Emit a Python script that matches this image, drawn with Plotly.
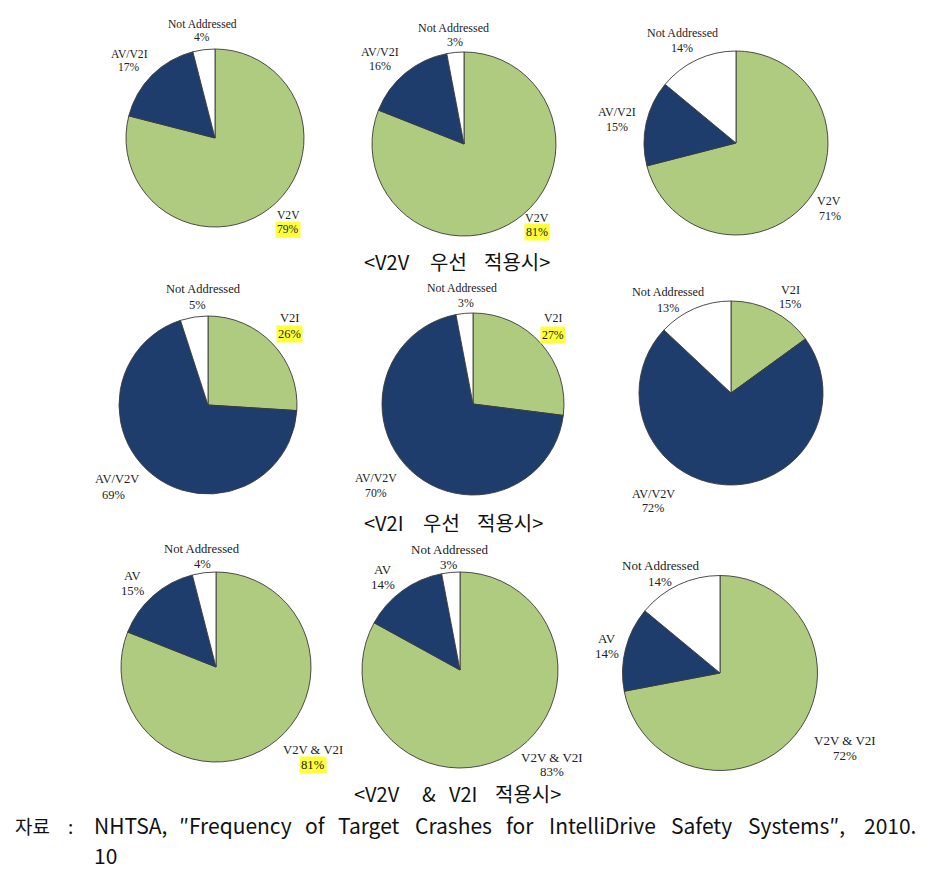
import plotly.graph_objects as go

# ---------------- data ----------------
row1_labels = ["V2V", "AV/V2I", "Not Addressed"]
row2_labels = ["V2I", "AV/V2V", "Not Addressed"]
row3_labels = ["V2V & V2I", "AV", "Not Addressed"]

v2v_first_a = [79, 17, 4]
v2v_first_b = [81, 16, 3]
v2v_first_c = [71, 15, 14]

v2i_first_a = [26, 69, 5]
v2i_first_b = [27, 70, 3]
v2i_first_c = [15, 72, 13]

both_a = [81, 15, 4]
both_b = [83, 14, 3]
both_c = [72, 14, 14]

captions = [
    ["<V2V", "우선", "적용시>"],
    ["<V2I", "우선", "적용시>"],
    ["<V2V", "&", "V2I", "적용시>"],
]
source_words = ["NHTSA,", "″Frequency", "of", "Target", "Crashes", "for",
                "IntelliDrive", "Safety", "Systems″,", "2010."]
source_prefix = ["자료", ":"]
source_tail = "10"

# ---------------- layout / style ----------------
W, H = 941, 874
GREEN = "#AFCB7F"
NAVY = "#1F3D6C"
WHITE = "#FFFFFF"
colors = [GREEN, NAVY, WHITE]

pies = [
    # labels, values, center(px), diameter, font size, highlight first, label positions per slice
    (row1_labels, v2v_first_a, (215, 138), 178, 11.6, True,
     [((288, 215), (288, 229)), ((129, 54), (129, 68)), ((202, 24), (202, 38))]),
    (row1_labels, v2v_first_b, (464, 144), 184, 12, True,
     [((537, 218), (537, 232)), ((380, 52), (380, 66)), ((453, 28), (455, 42))]),
    (row1_labels, v2v_first_c, (736, 143), 184, 12, False,
     [((829, 201), (830, 216)), ((617, 112), (617, 127)), ((682, 33), (682, 48))]),
    (row2_labels, v2i_first_a, (208, 405), 178, 12.5, True,
     [((289, 318), (289, 334)), ((117, 479), (113, 495)), ((203, 289), (197, 305))]),
    (row2_labels, v2i_first_b, (473, 404), 182, 11.8, True,
     [((553, 318), (553, 335)), ((376, 478), (376, 493)), ((462, 288), (466, 303))]),
    (row2_labels, v2i_first_c, (731, 393), 184, 12.2, False,
     [((790, 290), (790, 304)), ((653, 494), (653, 508)), ((668, 292), (668, 308))]),
    (row3_labels, both_a, (216, 667), 190, 12.7, True,
     [((313, 750), (313, 765)), ((133, 576), (133, 591)), ((202, 549), (202, 564))]),
    (row3_labels, both_b, (460, 670), 196, 13, False,
     [((552, 757), (552, 771)), ((383, 569), (383, 584)), ((449, 549), (449, 564))]),
    (row3_labels, both_c, (720, 673), 195, 13, False,
     [((845, 740), (845, 755)), ((607, 638), (607, 653)), ((660, 565), (660, 581))]),
]

caption_pos = [
    (261, [362, 428, 482]),
    (522, [362, 421, 475]),
    (793, [352, 420, 447, 493]),
]
source_word_x = [93, 178, 304, 337, 414, 505, 548, 670, 747, 917]
source_prefix_x = [13, 66]
source_y = 825
source_tail_xy = (93, 855)


def px(x):
    return x / W


def py(y):
    return 1 - y / H


fig = go.Figure()
annotations = []
LABEL_FONT = "Liberation Serif"

for labels, values, (cx, cy), d, fs, hl, lpos in pies:
    r = d / 2
    fig.add_trace(go.Pie(
        labels=labels, values=values, sort=False, direction="clockwise",
        rotation=0, textinfo="none", hoverinfo="label+percent",
        marker=dict(colors=colors, line=dict(color="#3A3A3A", width=0.9)),
        domain=dict(x=[px(cx - r), px(cx + r)], y=[py(cy + r), py(cy - r)]),
        showlegend=False,
    ))
    total = sum(values)
    for i, (lab, val) in enumerate(zip(labels, values)):
        (nx, ny), (qx, qy) = lpos[i]
        annotations.append(dict(
            x=px(nx), y=py(ny), xref="paper", yref="paper", text=lab,
            showarrow=False, xanchor="center", yanchor="middle",
            font=dict(family=LABEL_FONT, size=fs, color="#222222")))
        pct = f"{round(100 * val / total)}%"
        ann = dict(
            x=px(qx), y=py(qy), xref="paper", yref="paper", text=pct,
            showarrow=False, xanchor="center", yanchor="middle",
            font=dict(family=LABEL_FONT, size=fs, color="#222222"))
        if hl and i == 0:
            ann["bgcolor"] = "#FFFF3A"
            ann["borderpad"] = 1
        annotations.append(ann)

CAP_FONT = dict(family="Noto Sans CJK KR", size=20, color="#111111")
for parts, (cy, xs) in zip(captions, caption_pos):
    for t, x in zip(parts, xs):
        annotations.append(dict(
            x=px(x), y=py(cy), xref="paper", yref="paper", text=t,
            showarrow=False, xanchor="left", yanchor="middle", font=CAP_FONT))

SRC_FONT = dict(family="Noto Sans CJK KR", size=21, color="#111111")
KOR_FONT = dict(family="Noto Sans CJK KR", size=19, color="#111111")
for t, x in zip(source_prefix, source_prefix_x):
    annotations.append(dict(
        x=px(x), y=py(source_y), xref="paper", yref="paper", text=t,
        showarrow=False, xanchor="left", yanchor="middle", font=KOR_FONT))
n_words = len(source_words)
for k, (t, x) in enumerate(zip(source_words, source_word_x)):
    annotations.append(dict(
        x=px(x), y=py(source_y), xref="paper", yref="paper", text=t,
        showarrow=False, xanchor="right" if k == n_words - 1 else "left",
        yanchor="middle", font=SRC_FONT, borderpad=0))
annotations.append(dict(
    x=px(source_tail_xy[0]), y=py(source_tail_xy[1]), xref="paper", yref="paper",
    text=source_tail, showarrow=False, xanchor="left", yanchor="middle",
    font=SRC_FONT, borderpad=0))

fig.update_layout(
    width=W, height=H, margin=dict(l=0, r=0, t=0, b=0),
    paper_bgcolor="white", plot_bgcolor="white",
    annotations=annotations,
)

fig.write_html("out.html", config={"displayModeBar": False},
               post_script="document.body.style.margin='0';")
